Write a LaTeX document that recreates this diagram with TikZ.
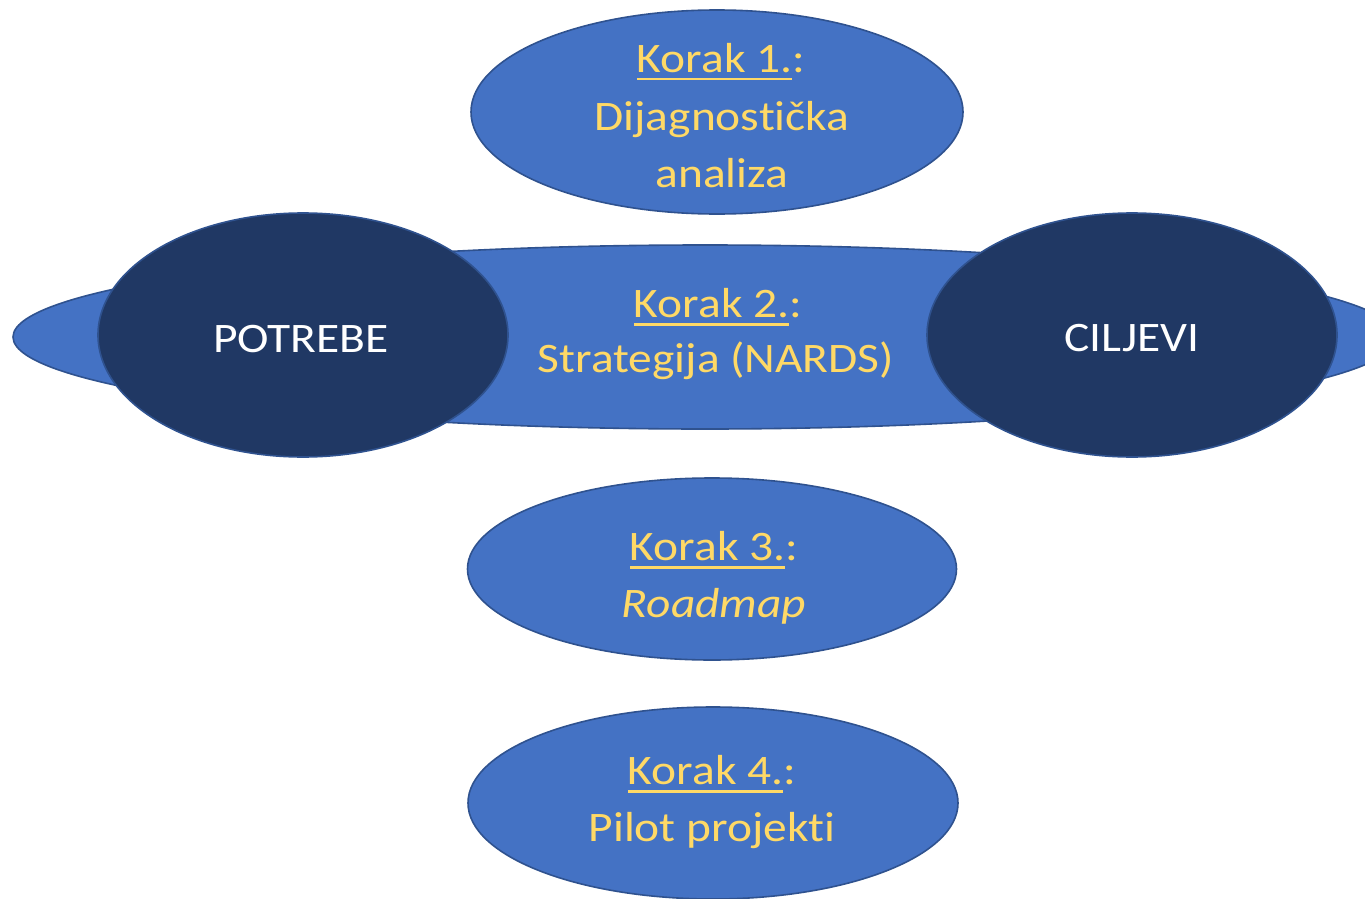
\documentclass[tikz,border=0pt]{standalone}
\usepackage{fontspec}
\setmainfont{Carlito}[Ligatures=NoCommon, FakeStretch=1.13]
\usetikzlibrary{shapes.geometric}
\definecolor{lite}{HTML}{4472C4}
\definecolor{edge}{HTML}{2F528F}
\definecolor{dark}{HTML}{203864}
\definecolor{gold}{HTML}{FFD966}
\newcommand\kul[1]{\setbox0\hbox{#1}\rlap{\rule[-8.5pt]{\wd0}{2.8pt}}\box0}
\tikzset{
  liteell/.style={ellipse, fill=lite, draw=edge, line width=1.6pt, inner sep=0pt},
  darkell/.style={ellipse, fill=dark, draw=edge, line width=1.6pt, inner sep=0pt},
  goldtxt/.style={text=gold, font=\fontsize{42}{50}\selectfont, inner sep=0pt, anchor=base},
  whitetxt/.style={text=white, font=\fontsize{42}{50}\selectfont, inner sep=0pt, anchor=base}
}
\begin{document}
\begin{tikzpicture}[x=1pt, y=-1pt]
\useasboundingbox (0,0) rectangle (1365,899);
\clip (0,0) rectangle (1365,899);
% step 1
\node[liteell, minimum width=492pt, minimum height=204pt] (s1) at (717,112) {};
\node[goldtxt] (s1a) at (721,72) {\kul{Korak 1.}:};
\node[goldtxt] (s1b) at (722,130) {Dijagnostička};
\node[goldtxt] (s1c) at (722,187) {analiza};
% step 2 (wide)
\node[liteell, minimum width=1384pt, minimum height=184pt] (s2) at (705,337) {};
\node[darkell, minimum width=410pt, minimum height=244pt] (pot) at (303,335) {};
\node[darkell, minimum width=410pt, minimum height=244pt] (cil) at (1132,335) {};
\node[goldtxt] (s2a) at (718,317) {\kul{Korak 2.}:};
\node[goldtxt] (s2b) at (716,372) {Strategija (NARDS)};
\node[whitetxt] (pott) at (301,352) {POTREBE};
\node[whitetxt] (cilt) at (1132,351) {CILJEVI};
% step 3
\node[liteell, minimum width=489pt, minimum height=182pt] (s3) at (712,569) {};
\node[goldtxt] (s3a) at (714,560) {\kul{Korak 3.}:};
\node[goldtxt] (s3b) at (714,617) {\itshape Roadmap};
% step 4
\node[liteell, minimum width=490pt, minimum height=192pt] (s4) at (713,803) {};
\node[goldtxt] (s4a) at (712,784) {\kul{Korak 4.}:};
\node[goldtxt] (s4b) at (712,841) {Pilot projekti};
\end{tikzpicture}
\end{document}
